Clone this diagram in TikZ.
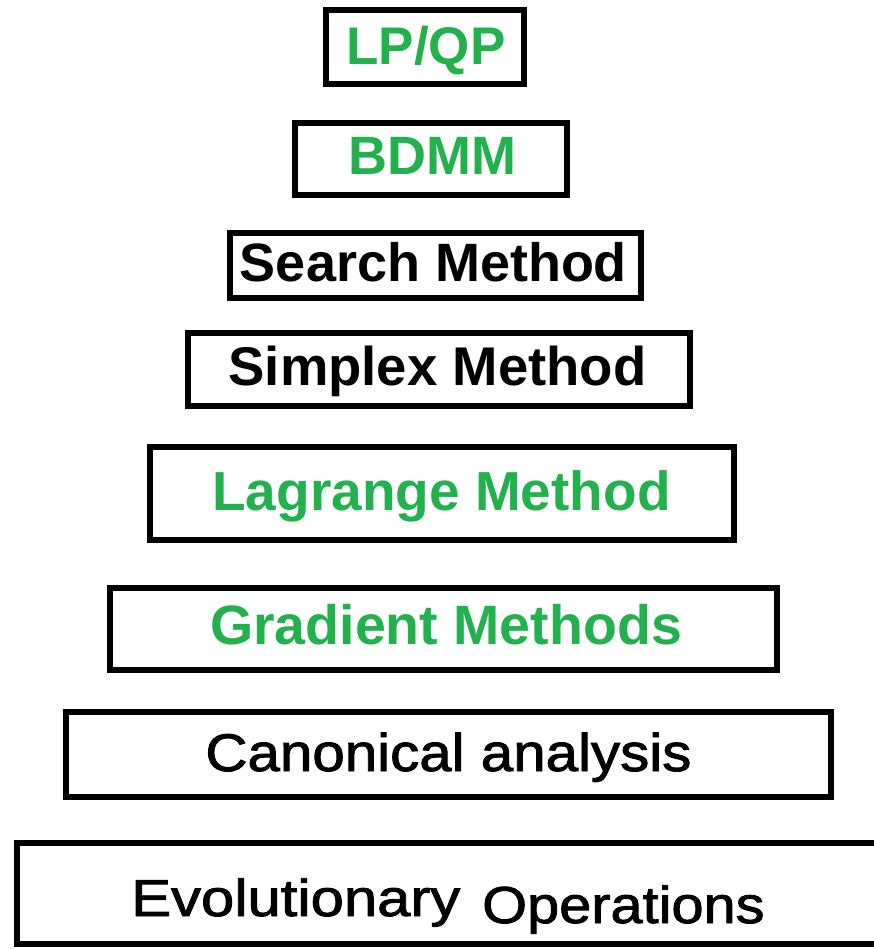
\documentclass[tikz,border=0pt]{standalone}
\usepackage{graphicx}
\usepackage{fontspec}
\setmainfont{Liberation Sans}
\newfontfamily\medfont{Liberation Sans}[FakeBold=1.6]
\definecolor{pgreen}{RGB}{34,177,76}
\begin{document}
\begin{tikzpicture}[x=1pt,y=-1pt,
  box/.style={draw=black, line width=6pt, inner sep=0pt},
  lbl/.style={anchor=base, inner sep=0pt},
  grn/.style={text=pgreen},
]
\useasboundingbox (0,0) rectangle (874,949);
% boxes
\node[box, minimum width=198pt, minimum height=74pt]  (b1) at (425,47) {};
\node[box, minimum width=272pt, minimum height=72pt]  (b2) at (431,159) {};
\node[box, minimum width=411pt, minimum height=65pt]  (b3) at (435.5,265.5) {};
\node[box, minimum width=502pt, minimum height=73pt]  (b4) at (439,369.5) {};
\node[box, minimum width=584pt, minimum height=93pt]  (b5) at (442,493.5) {};
\node[box, minimum width=667pt, minimum height=82pt]  (b6) at (443.5,629) {};
\node[box, minimum width=765pt, minimum height=85pt]  (b7) at (448.5,754.5) {};
\node[box, minimum width=943pt, minimum height=101pt] (b8) at (488.5,893.5) {};
% labels
\node[lbl, grn, font=\fontsize{53}{60}\selectfont\bfseries] (t1) at (426,65) {LP/QP};
\node[lbl, grn, font=\fontsize{54}{60}\selectfont\bfseries] (t2) at (432.5,175) {BDMM};
\node[lbl, font=\fontsize{54}{60}\selectfont\bfseries] (t3) at (433.5,282) {Search Method};
\node[lbl, font=\fontsize{54.5}{60}\selectfont\bfseries] (t4) at (437.5,385) {Simplex Method};
\node[lbl, grn, font=\fontsize{55}{60}\selectfont\bfseries] (t5) at (441.5,510) {Lagrange Method};
\node[lbl, grn, font=\fontsize{55.5}{60}\selectfont\bfseries] (t6) at (446,644) {Gradient Methods};
\node[lbl, font=\medfont\fontsize{53}{60}\selectfont] (t7) at (448.5,771) {\scalebox{1.1}[1]{Canonical analysis}};
\node[lbl, anchor=base west, font=\medfont\fontsize{52}{60}\selectfont] (t8a) at (131,916) {\scalebox{1.15}[1]{Evolutionary}};
\node[lbl, anchor=base west, font=\medfont\fontsize{52}{60}\selectfont] (t8b) at (482,923) {\scalebox{1.11}[1]{Operations}};
\end{tikzpicture}
\end{document}
